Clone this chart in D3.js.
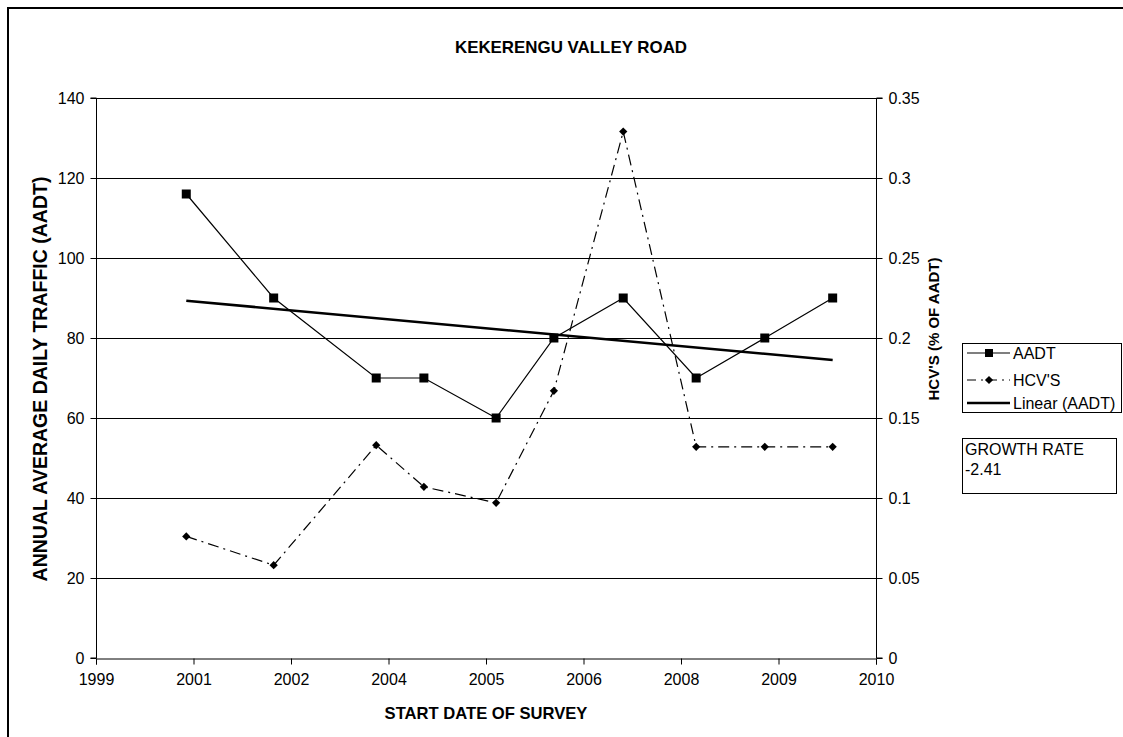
<!DOCTYPE html>
<html><head><meta charset="utf-8">
<script src="https://cdn.jsdelivr.net/npm/d3@7/dist/d3.min.js"></script>
<style>
html,body{margin:0;padding:0;background:#fff;}
svg{display:block;font-family:"Liberation Sans",Arial,sans-serif;}
</style></head>
<body>
<svg id="c" width="1123" height="737"></svg>
<script>
// ---- data ----
const title = "KEKERENGU VALLEY ROAD";
const xTitle = "START DATE OF SURVEY";
const yTitleLeft = "ANNUAL AVERAGE DAILY TRAFFIC (AADT)";
const yTitleRight = "HCV'S (% OF AADT)";
const xTickLabels = ["1999","2001","2002","2004","2005","2006","2008","2009","2010"];
const xDomain = [1999.97, 2010.77];
const surveyDates = [2001.22, 2002.43, 2003.85, 2004.51, 2005.51, 2006.31, 2007.27, 2008.28, 2009.23, 2010.17];
const aadt = [116, 90, 70, 70, 60, 80, 90, 70, 80, 90];
const hcv = [0.076, 0.058, 0.133, 0.107, 0.097, 0.167, 0.329, 0.132, 0.132, 0.132];
const leftTicks = [0,20,40,60,80,100,120,140];
const rightTicks = [0,0.05,0.1,0.15,0.2,0.25,0.3,0.35];
const seriesNames = ["AADT","HCV'S","Linear (AADT)"];
const growthLabel = ["GROWTH RATE","-2.41"];

// ---- layout ----
const svg = d3.select("#c");
const L = 96, R = 876, T = 98, B = 658;
const x = d3.scaleLinear().domain(xDomain).range([L, R]);
const yL = d3.scaleLinear().domain([0,140]).range([B, T]);
const yR = d3.scaleLinear().domain([0,0.35]).range([B, T]);
const fs = 16;

// outer frame
svg.append("line").attr("x1",8).attr("x2",8).attr("y1",7).attr("y2",737).attr("stroke","#000").attr("stroke-width",2);
svg.append("line").attr("x1",7).attr("x2",1123).attr("y1",8).attr("y2",8).attr("stroke","#000").attr("stroke-width",2);

// gridlines
svg.append("g").selectAll("line").data(leftTicks.slice(1)).join("line")
  .attr("x1",L).attr("x2",R).attr("y1",d=>Math.round(yL(d))+0.5).attr("y2",d=>Math.round(yL(d))+0.5)
  .attr("stroke","#000").attr("stroke-width",1);

// axes
const xTickVals = d3.range(xTickLabels.length).map(i => xDomain[0] + i*(xDomain[1]-xDomain[0])/(xTickLabels.length-1));
const xAxis = d3.axisBottom(x).tickValues(xTickVals).tickFormat((d,i)=>xTickLabels[i]).tickSize(6).tickPadding(9);
const gx = svg.append("g").attr("transform",`translate(0,${B+0.5})`).call(xAxis);
const gl = svg.append("g").attr("transform",`translate(${L+0.5},0)`).call(d3.axisLeft(yL).tickValues(leftTicks).tickSize(6).tickPadding(6).tickFormat(d3.format("d")));
const gr = svg.append("g").attr("transform",`translate(${R+0.5},0)`).call(d3.axisRight(yR).tickValues(rightTicks).tickSize(6).tickPadding(6).tickFormat(d=>d===0?"0":String(+d.toFixed(2))));
[gx,gl,gr].forEach(g=>{
  g.select(".domain").attr("stroke","#000").attr("stroke-width",1);
  g.selectAll(".tick line").attr("stroke","#000");
  g.selectAll("text").attr("font-size",fs).attr("fill","#000").attr("font-family","Liberation Sans, Arial, sans-serif");
});
gl.select(".domain").attr("d",`M-6,${B}H0V${T}H-6`);
gr.select(".domain").attr("d",`M6,${B}H0V${T}H6`);

// titles
svg.append("text").attr("x",571).attr("y",53).attr("text-anchor","middle")
  .attr("font-weight","bold").attr("font-size",16.9).text(title);
svg.append("text").attr("x",(L+R)/2).attr("y",719).attr("text-anchor","middle")
  .attr("font-weight","bold").attr("font-size",16.6).text(xTitle);
svg.append("text").attr("transform",`translate(47,379) rotate(-90)`).attr("text-anchor","middle")
  .attr("font-weight","bold").attr("font-size",19.5).text(yTitleLeft);
svg.append("text").attr("transform",`translate(939,329) rotate(-90)`).attr("text-anchor","middle")
  .attr("font-weight","bold").attr("font-size",15).text(yTitleRight);

// series data
const pts = surveyDates.map((d,i)=>({x:d, a:aadt[i], h:hcv[i]}));

// HCV line
const dashHCV = "11,5,2,5";
svg.append("path").datum(pts).attr("fill","none").attr("stroke","#000").attr("stroke-width",1.2)
  .attr("stroke-dasharray",dashHCV)
  .attr("d", d3.line().x(d=>x(d.x)).y(d=>yR(d.h)));
const diamond = d3.symbol().type(d3.symbolSquare).size(34);
svg.append("g").selectAll("path").data(pts).join("path")
  .attr("transform",d=>`translate(${x(d.x)},${yR(d.h)}) rotate(45)`).attr("d",diamond).attr("fill","#000");

// AADT line
svg.append("path").datum(pts).attr("fill","none").attr("stroke","#000").attr("stroke-width",1.2)
  .attr("d", d3.line().x(d=>x(d.x)).y(d=>yL(d.a)));
svg.append("g").selectAll("rect").data(pts).join("rect")
  .attr("x",d=>x(d.x)-4.5).attr("y",d=>yL(d.a)-4.5).attr("width",9).attr("height",9).attr("fill","#000");

// linear trend (least squares on AADT vs date)
const mx = d3.mean(pts,d=>d.x), my = d3.mean(pts,d=>d.a);
const slope = d3.sum(pts,d=>(d.x-mx)*(d.a-my)) / d3.sum(pts,d=>(d.x-mx)**2);
const icpt = my - slope*mx;
const xe = d3.extent(pts,d=>d.x);
svg.append("path").datum(xe).attr("fill","none").attr("stroke","#000").attr("stroke-width",2.6)
  .attr("d", d3.line().x(d=>x(d)).y(d=>yL(icpt+slope*d)));

// legend
const lg = svg.append("g").attr("transform","translate(962,343)");
lg.append("rect").attr("x",0.5).attr("y",0.5).attr("width",159).attr("height",69).attr("fill","#fff").attr("stroke","#000");
const rows = [10, 37, 60];
rows.forEach((ry,i)=>{
  const ln = lg.append("line").attr("x1",5).attr("x2",48).attr("y1",ry).attr("y2",ry).attr("stroke","#000");
  if(i===0){ ln.attr("stroke-width",1.2); lg.append("rect").attr("x",23).attr("y",ry-4).attr("width",8).attr("height",8).attr("fill","#000"); }
  if(i===1){ ln.attr("stroke-width",1.2).attr("stroke-dasharray","9,5,2,5"); lg.append("path").attr("transform",`translate(27,${ry}) rotate(45)`).attr("d",diamond).attr("fill","#000"); }
  if(i===2){ ln.attr("stroke-width",2.6); }
  lg.append("text").attr("x",51).attr("y",ry+6).attr("font-size",16).text(seriesNames[i]);
});

// growth rate box
const gb = svg.append("g").attr("transform","translate(962,438)");
gb.append("rect").attr("x",0.5).attr("y",0.5).attr("width",154).attr("height",55).attr("fill","#fff").attr("stroke","#000");
growthLabel.forEach((t,i)=>gb.append("text").attr("x",3).attr("y",17+i*20).attr("font-size",16).text(t));
</script>
</body></html>
